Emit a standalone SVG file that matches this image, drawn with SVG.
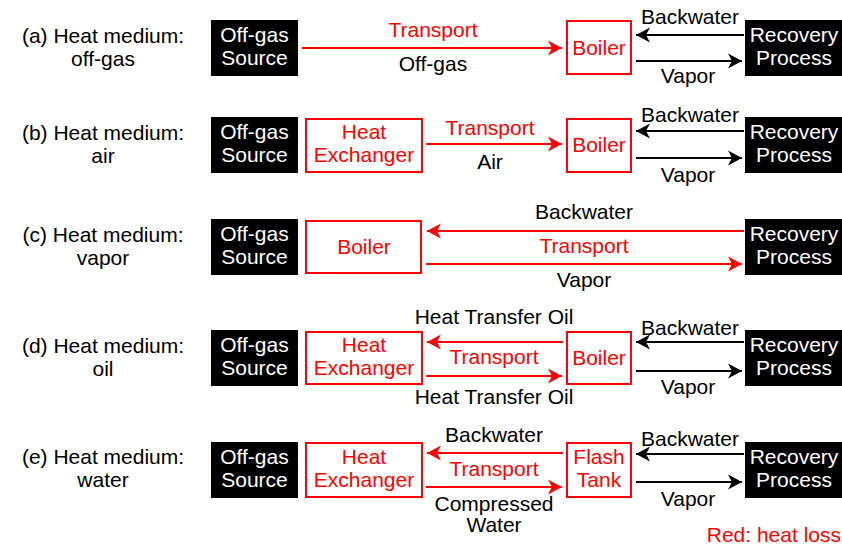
<svg xmlns="http://www.w3.org/2000/svg" width="842" height="547" viewBox="0 0 842 547">
<defs>
<style>
text{font-family:"Liberation Sans",Arial,sans-serif;font-size:21px;text-anchor:middle}
.k{fill:#000}
.w{fill:#fff}
.r{fill:#ff0000}
.lbl{fill:#000}
.bb{fill:#000;stroke:none}
.rb{fill:#fff;stroke:#ff0000;stroke-width:2}
.rl{stroke:#ff0000;stroke-width:2.2;fill:none;marker-end:url(#ar)}
.kl{stroke:#000;stroke-width:2.2;fill:none;marker-end:url(#ak)}
</style>
<marker id="ar" markerUnits="userSpaceOnUse" markerWidth="16" markerHeight="18" refX="14" refY="9" orient="auto"><path d="M0,1.5 L14,9 L0,16.5 L4,9 Z" fill="#ff0000"/></marker>
<marker id="ak" markerUnits="userSpaceOnUse" markerWidth="16" markerHeight="18" refX="14" refY="9" orient="auto"><path d="M0,1.5 L14,9 L0,16.5 L4,9 Z" fill="#000"/></marker>
</defs>
<rect width="842" height="547" fill="#fff"/>

<g id="labels">
<text class="lbl" x="103" y="43">(a) Heat medium:</text>
<text class="lbl" x="103" y="66">off-gas</text>
<text class="lbl" x="103" y="140">(b) Heat medium:</text>
<text class="lbl" x="103" y="163">air</text>
<text class="lbl" x="103" y="242">(c) Heat medium:</text>
<text class="lbl" x="103" y="265">vapor</text>
<text class="lbl" x="103" y="353">(d) Heat medium:</text>
<text class="lbl" x="103" y="376">oil</text>
<text class="lbl" x="103" y="464">(e) Heat medium:</text>
<text class="lbl" x="103" y="487">water</text>
</g>

<!-- Row a -->
<g id="a-source"><rect class="bb" x="211" y="20" width="87" height="56"/><text class="w" x="254.5" y="42">Off-gas</text><text class="w" x="254.5" y="65">Source</text></g>
<g id="a-boiler"><rect class="rb" x="567" y="21" width="64" height="53"/><text class="r" x="599" y="55">Boiler</text></g>
<g id="a-recovery"><rect class="bb" x="745" y="20" width="97" height="56"/><text class="w" x="794" y="42">Recovery</text><text class="w" x="794" y="65">Process</text></g>

<!-- Row b -->
<g id="b-source"><rect class="bb" x="211" y="117" width="87" height="56"/><text class="w" x="254.5" y="139">Off-gas</text><text class="w" x="254.5" y="162">Source</text></g>
<g id="b-hx"><rect class="rb" x="306" y="119" width="116" height="53"/><text class="r" x="364" y="139">Heat</text><text class="r" x="364" y="162">Exchanger</text></g>
<g id="b-boiler"><rect class="rb" x="567" y="119" width="64" height="53"/><text class="r" x="599" y="152">Boiler</text></g>
<g id="b-recovery"><rect class="bb" x="745" y="117" width="97" height="56"/><text class="w" x="794" y="139">Recovery</text><text class="w" x="794" y="162">Process</text></g>

<!-- Row c -->
<g id="c-source"><rect class="bb" x="211" y="219" width="87" height="56"/><text class="w" x="254.5" y="241">Off-gas</text><text class="w" x="254.5" y="264">Source</text></g>
<g id="c-boiler"><rect class="rb" x="306" y="221" width="115" height="52"/><text class="r" x="364" y="254">Boiler</text></g>
<g id="c-recovery"><rect class="bb" x="745" y="219" width="97" height="56"/><text class="w" x="794" y="241">Recovery</text><text class="w" x="794" y="264">Process</text></g>

<!-- Row d -->
<g id="d-source"><rect class="bb" x="211" y="330" width="87" height="56"/><text class="w" x="254.5" y="352">Off-gas</text><text class="w" x="254.5" y="375">Source</text></g>
<g id="d-hx"><rect class="rb" x="306" y="332" width="116" height="52"/><text class="r" x="364" y="352">Heat</text><text class="r" x="364" y="375">Exchanger</text></g>
<g id="d-boiler"><rect class="rb" x="567" y="332" width="64" height="52"/><text class="r" x="599" y="365">Boiler</text></g>
<g id="d-recovery"><rect class="bb" x="745" y="330" width="97" height="56"/><text class="w" x="794" y="352">Recovery</text><text class="w" x="794" y="375">Process</text></g>

<!-- Row e -->
<g id="e-source"><rect class="bb" x="211" y="442" width="87" height="56"/><text class="w" x="254.5" y="464">Off-gas</text><text class="w" x="254.5" y="487">Source</text></g>
<g id="e-hx"><rect class="rb" x="306" y="443" width="116" height="54"/><text class="r" x="364" y="464">Heat</text><text class="r" x="364" y="487">Exchanger</text></g>
<g id="e-flash"><rect class="rb" x="567" y="443" width="64" height="54"/><text class="r" x="599" y="464">Flash</text><text class="r" x="599" y="487">Tank</text></g>
<g id="e-recovery"><rect class="bb" x="745" y="442" width="97" height="56"/><text class="w" x="794" y="464">Recovery</text><text class="w" x="794" y="487">Process</text></g>

<g id="connectors">
<!-- a -->
<line class="rl" x1="302" y1="48" x2="562" y2="48"/>
<line class="kl" x1="744" y1="35" x2="636" y2="35"/>
<line class="kl" x1="636" y1="61" x2="742" y2="61"/>
<!-- b -->
<line class="rl" x1="426" y1="144" x2="562" y2="144"/>
<line class="kl" x1="744" y1="131" x2="636" y2="131"/>
<line class="kl" x1="636" y1="158" x2="742" y2="158"/>
<!-- c -->
<line class="rl" x1="744" y1="231" x2="427" y2="231"/>
<line class="rl" x1="426" y1="264" x2="742" y2="264"/>
<!-- d -->
<line class="rl" x1="563" y1="342" x2="427" y2="342"/>
<line class="rl" x1="426" y1="376" x2="562" y2="376"/>
<line class="kl" x1="744" y1="342" x2="636" y2="342"/>
<line class="kl" x1="636" y1="371" x2="742" y2="371"/>
<!-- e -->
<line class="rl" x1="563" y1="453" x2="427" y2="453"/>
<line class="rl" x1="426" y1="487" x2="562" y2="487"/>
<line class="kl" x1="744" y1="454" x2="636" y2="454"/>
<line class="kl" x1="636" y1="482" x2="742" y2="482"/>
</g>

<g id="edge-labels">
<text class="r" x="433" y="37">Transport</text>
<text class="k" x="433" y="71">Off-gas</text>
<text class="k" x="690" y="24">Backwater</text>
<text class="k" x="688" y="83">Vapor</text>

<text class="r" x="490" y="135">Transport</text>
<text class="k" x="490" y="169">Air</text>
<text class="k" x="690" y="122">Backwater</text>
<text class="k" x="688" y="182">Vapor</text>

<text class="k" x="584" y="219">Backwater</text>
<text class="r" x="584" y="253">Transport</text>
<text class="k" x="584" y="287">Vapor</text>

<text class="k" x="494" y="324">Heat Transfer Oil</text>
<text class="r" x="494" y="364">Transport</text>
<text class="k" x="494" y="404">Heat Transfer Oil</text>
<text class="k" x="690" y="335">Backwater</text>
<text class="k" x="688" y="394">Vapor</text>

<text class="k" x="494" y="442">Backwater</text>
<text class="r" x="494" y="476">Transport</text>
<text class="k" x="494" y="511">Compressed</text>
<text class="k" x="494" y="532">Water</text>
<text class="k" x="690" y="446">Backwater</text>
<text class="k" x="688" y="506">Vapor</text>

<text class="r" x="841" y="542" style="text-anchor:end">Red: heat loss</text>
</g>
</svg>
